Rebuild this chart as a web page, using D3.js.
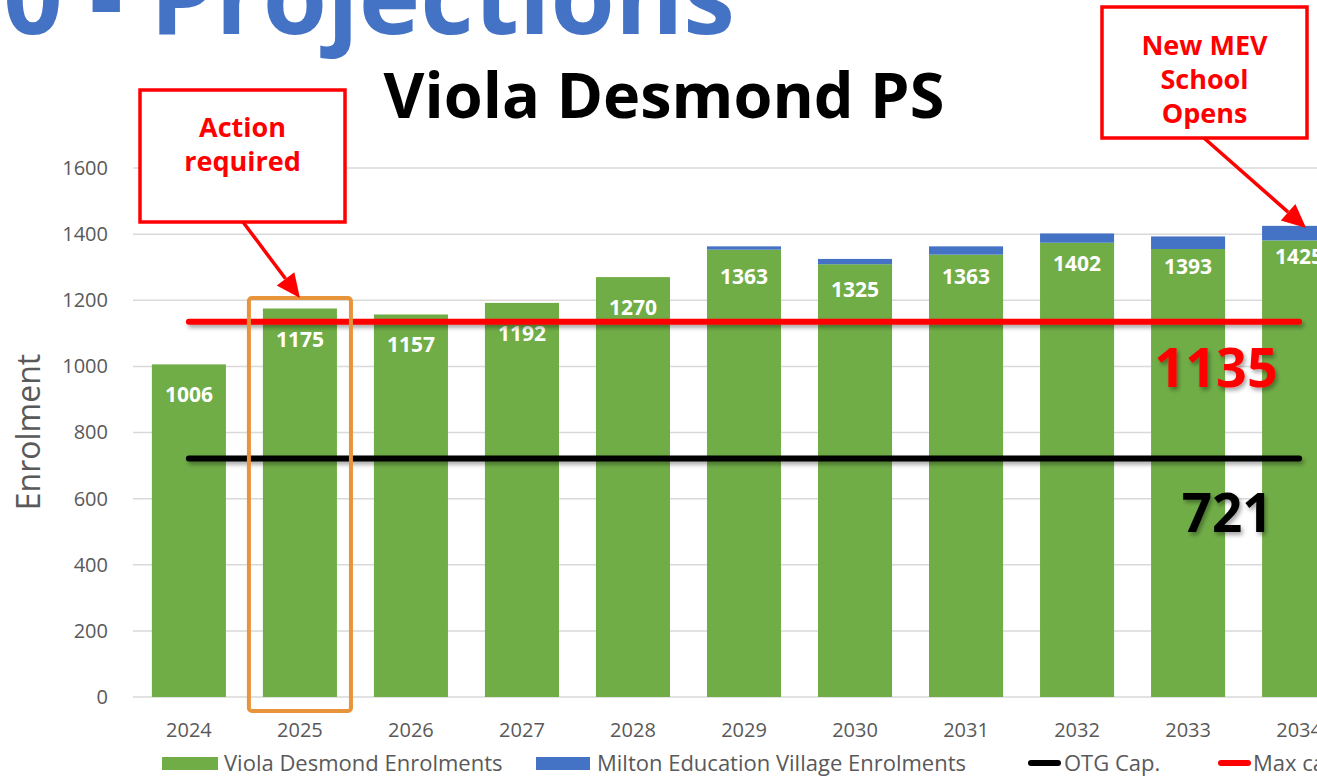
<!DOCTYPE html>
<html>
<head>
<meta charset="utf-8">
<script src="https://cdn.jsdelivr.net/npm/d3@7"></script>
<style>
  body { margin: 0; background: #fff; }
  svg { display: block; font-family: "Open Sans", sans-serif; }
</style>
</head>
<body>
<div id="chart"></div>
<script>
// values
var years = ["2024", "2025", "2026", "2027", "2028", "2029", "2030", "2031", "2032", "2033", "2034"];
var violaEnrol = [1006, 1175, 1157, 1192, 1270, 1353, 1309, 1338, 1374, 1355, 1381];
var mevEnrol   = [0, 0, 0, 0, 0, 10, 16, 25, 28, 38, 44];
var otgCap = 721;
var maxCap = 1135;
var yTicks = [0, 200, 400, 600, 800, 1000, 1200, 1400, 1600];
var legendNames = ["Viola Desmond Enrolments", "Milton Education Village Enrolments", "OTG Cap.", "Max ca"];

var W = 1317, H = 778;
var green = "#70ad47", blue = "#4472c4", grey = "#595959";

var svg = d3.select("#chart").append("svg")
  .attr("width", W)
  .attr("height", H);

// soft shadow like the office lines (user space so flat lines still render)
var defs = svg.append("defs");
var f = defs.append("filter").attr("id", "shadow")
  .attr("filterUnits", "userSpaceOnUse")
  .attr("x", 0).attr("y", 0).attr("width", W).attr("height", H);
f.append("feDropShadow").attr("dx", 2).attr("dy", 3).attr("stdDeviation", 2)
  .attr("flood-color", "#000").attr("flood-opacity", 0.35);

var x = d3.scaleBand()
  .domain(years)
  .range([133, 1355])
  .paddingInner(0.333)
  .paddingOuter(0.17);

var y = d3.scaleLinear()
  .domain([0, 1600])
  .range([697, 168]);

var data = years.map(function(yr, i) {
  return { year: yr, viola: violaEnrol[i], mev: mevEnrol[i] };
});

// gridlines
svg.append("g")
  .selectAll("line")
  .data(yTicks)
  .enter().append("line")
  .attr("x1", 133)
  .attr("x2", W)
  .attr("y1", function(d) { return y(d); })
  .attr("y2", function(d) { return y(d); })
  .style("stroke", "#d9d9d9")
  .style("stroke-width", 1.5);

// y axis (labels only)
var yAxis = svg.append("g")
  .attr("transform", "translate(108,0)")
  .call(d3.axisLeft(y).tickValues(yTicks).tickFormat(d3.format("d")).tickSize(0).tickPadding(0));
yAxis.select(".domain").remove();
yAxis.selectAll("text")
  .style("font-family", "Open Sans")
  .style("font-size", "20px")
  .style("fill", grey);

// x axis (labels only)
var xAxis = svg.append("g")
  .attr("transform", "translate(0,723)")
  .call(d3.axisBottom(x).tickSize(0).tickPadding(0));
xAxis.select(".domain").remove();
xAxis.selectAll("text")
  .style("font-family", "Open Sans")
  .style("font-size", "20px")
  .style("fill", grey);

svg.append("text")
  .attr("transform", "translate(40,432) rotate(-90)")
  .attr("text-anchor", "middle")
  .style("font-size", "32px")
  .style("fill", grey)
  .text("Enrolment");

// stacked bars
var bars = svg.append("g");
bars.selectAll(".viola")
  .data(data)
  .enter().append("rect")
  .attr("class", "viola")
  .attr("x", function(d) { return x(d.year); })
  .attr("width", x.bandwidth())
  .attr("y", function(d) { return y(d.viola); })
  .attr("height", function(d) { return y(0) - y(d.viola); })
  .style("fill", green);

bars.selectAll(".mev")
  .data(data.filter(function(d) { return d.mev > 0; }))
  .enter().append("rect")
  .attr("class", "mev")
  .attr("x", function(d) { return x(d.year); })
  .attr("width", x.bandwidth())
  .attr("y", function(d) { return y(d.viola + d.mev); })
  .attr("height", function(d) { return y(d.viola) - y(d.viola + d.mev); })
  .style("fill", blue);

// total labels inside bars
svg.append("g")
  .selectAll("text")
  .data(data)
  .enter().append("text")
  .attr("x", function(d) { return x(d.year) + x.bandwidth() / 2; })
  .attr("y", function(d) { return y(d.viola + d.mev) + 38; })
  .attr("text-anchor", "middle")
  .style("font-size", "21px")
  .style("font-weight", "bold")
  .style("fill", "#fff")
  .text(function(d) { return d.viola + d.mev; });

// capacity lines
var xStart = x(years[0]) + x.bandwidth() / 2;
var xEnd = x(years[years.length - 1]) + x.bandwidth() / 2;
function capLine(val, col) {
  svg.append("line")
    .attr("x1", xStart).attr("x2", xEnd)
    .attr("y1", y(val)).attr("y2", y(val))
    .attr("filter", "url(#shadow)")
    .style("stroke", col)
    .style("stroke-width", 6)
    .style("stroke-linecap", "round");
}
capLine(maxCap, "#ff0000");
capLine(otgCap, "#000");

svg.append("text")
  .attr("x", xEnd - 83).attr("y", y(maxCap) + 65)
  .attr("text-anchor", "middle")
  .attr("filter", "url(#shadow)")
  .style("font-size", "54px").style("font-weight", "bold")
  .style("fill", "#ff0000")
  .text(maxCap);

svg.append("text")
  .attr("x", xEnd - 72).attr("y", y(otgCap) + 73)
  .attr("text-anchor", "middle")
  .attr("filter", "url(#shadow)")
  .style("font-size", "53px").style("font-weight", "bold")
  .style("fill", "#000")
  .text(otgCap);

// highlight box around 2025
svg.append("rect")
  .attr("x", x("2025") - 14)
  .attr("y", 298)
  .attr("width", x.bandwidth() + 28)
  .attr("height", 413)
  .attr("rx", 3)
  .style("fill", "none")
  .style("stroke", "#e8943a")
  .style("stroke-width", 4);

// callouts
function arrow(x1, y1, x2, y2) {
  var a = Math.atan2(y2 - y1, x2 - x1), len = 24, wid = 11;
  var bx = x2 - len * Math.cos(a), by = y2 - len * Math.sin(a);
  svg.append("line")
    .attr("x1", x1).attr("y1", y1).attr("x2", bx).attr("y2", by)
    .style("stroke", "#ff0000").style("stroke-width", 3.5);
  svg.append("path")
    .attr("d", d3.line()([
      [x2, y2],
      [bx + wid * Math.sin(a), by - wid * Math.cos(a)],
      [bx - wid * Math.sin(a), by + wid * Math.cos(a)]
    ]) + "Z")
    .style("fill", "#ff0000");
}

function callout(bx, by, bw, bh, lines, baseY) {
  svg.append("rect")
    .attr("x", bx).attr("y", by).attr("width", bw).attr("height", bh)
    .style("fill", "#fff")
    .style("stroke", "#ff0000")
    .style("stroke-width", 3.5);
  svg.append("g").selectAll("text")
    .data(lines)
    .enter().append("text")
    .attr("x", bx + bw / 2)
    .attr("y", function(d, i) { return baseY + i * 34; })
    .attr("text-anchor", "middle")
    .style("font-size", "27px").style("font-weight", "bold")
    .style("fill", "#ff0000")
    .text(function(d) { return d; });
}

callout(140, 90, 205, 132, ["Action", "required"], 137);
arrow(243, 222, x("2025") + x.bandwidth() / 2, 298);

callout(1102, 7, 205, 131, ["New MEV", "School", "Opens"], 55);
arrow(1204, 138, xEnd + 7, 228);

// titles
svg.append("text")
  .attr("x", 735).attr("y", 34)
  .attr("text-anchor", "end")
  .style("font-size", "104px").style("font-weight", "bold")
  .style("fill", blue)
  .text("0 - Projections");

svg.append("text")
  .attr("x", 664).attr("y", 118)
  .attr("text-anchor", "middle")
  .style("font-size", "63px").style("font-weight", "bold")
  .style("fill", "#000")
  .text("Viola Desmond PS");

// legend
var lg = svg.append("g").style("font-size", "22px").style("fill", grey);
lg.append("rect").attr("x", 162).attr("y", 757).attr("width", 56).attr("height", 13).style("fill", green);
lg.append("text").attr("x", 224).attr("y", 771).text(legendNames[0]);
lg.append("rect").attr("x", 536).attr("y", 757).attr("width", 54).attr("height", 13).style("fill", blue);
lg.append("text").attr("x", 597).attr("y", 771).text(legendNames[1]);
lg.append("line").attr("x1", 1031).attr("x2", 1058).attr("y1", 763).attr("y2", 763)
  .style("stroke", "#000").style("stroke-width", 6).style("stroke-linecap", "round");
lg.append("text").attr("x", 1064).attr("y", 771).text(legendNames[2]);
lg.append("line").attr("x1", 1221).attr("x2", 1248).attr("y1", 763).attr("y2", 763)
  .style("stroke", "#ff0000").style("stroke-width", 6).style("stroke-linecap", "round");
lg.append("text").attr("x", 1253).attr("y", 771).text(legendNames[3]);
</script>
</body>
</html>
